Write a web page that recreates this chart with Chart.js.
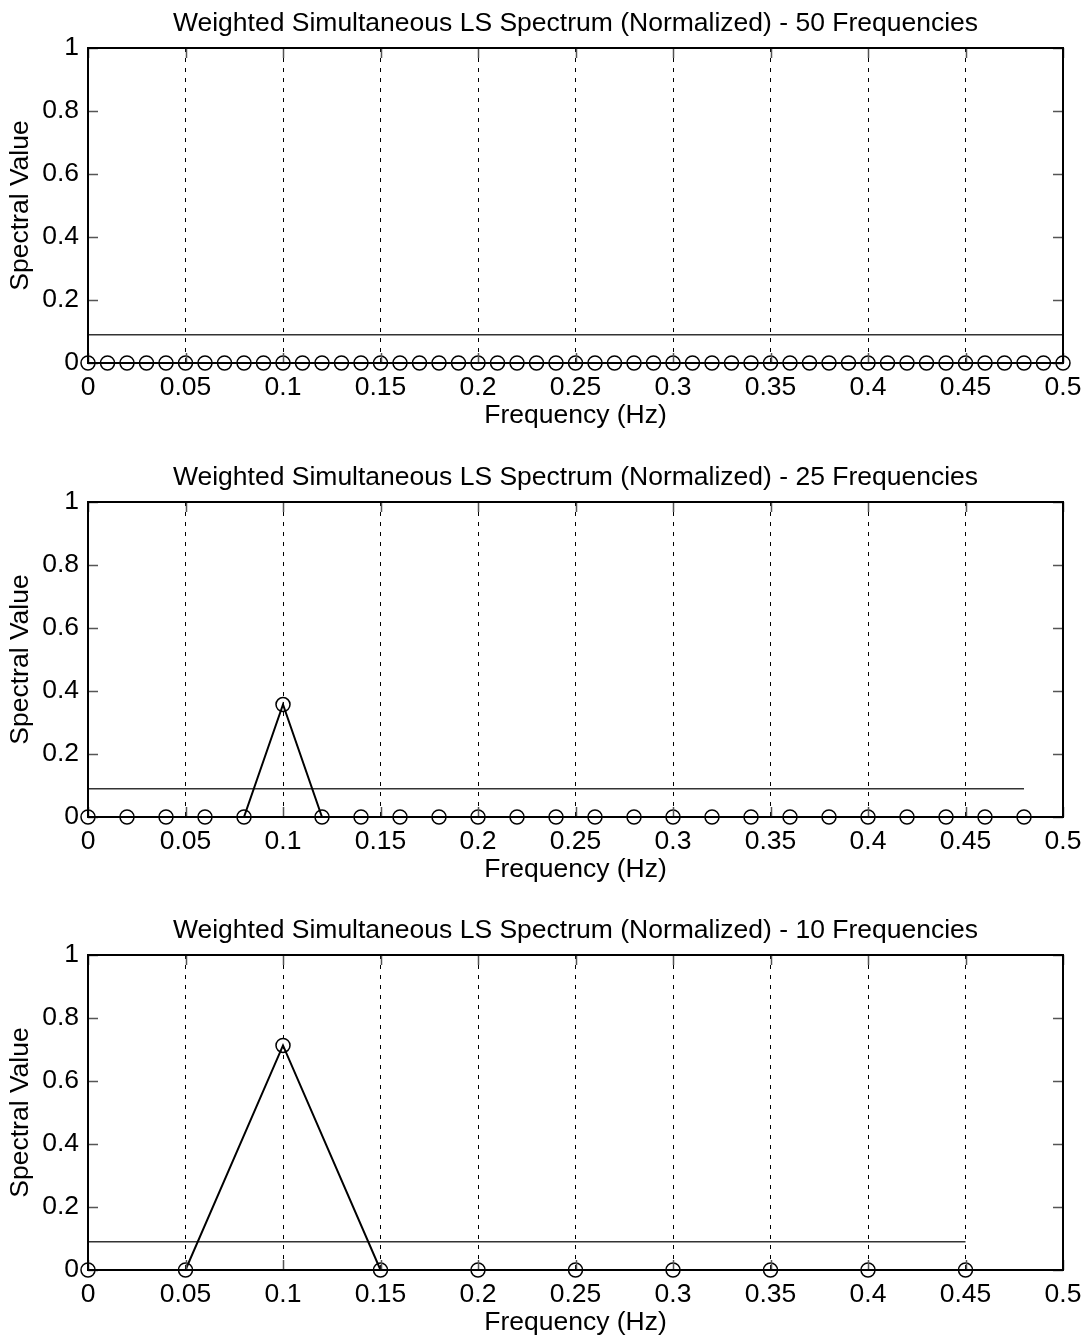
<!DOCTYPE html>
<html lang="en">
<head>
  <meta charset="UTF-8">
  <title>Weighted Simultaneous LS Spectrum</title>
  <script src="https://cdn.jsdelivr.net/npm/chart.js"></script>
  <style>
    body {
      margin: 0;
      background: #fff;
      width: 1089px;
      height: 1339px;
      position: relative;
      overflow: hidden;
    }
    .plot {
      position: absolute;
      left: 0;
      width: 1089px;
      height: 453px;
    }
  </style>
</head>
<body>
  <div class="plot" style="top: 0px;"><canvas id="c50"></canvas></div>
  <div class="plot" style="top: 454px;"><canvas id="c25"></canvas></div>
  <div class="plot" style="top: 907px;"><canvas id="c10"></canvas></div>

  <script>
    // axis ticks
    const xTickValues = [0, 0.05, 0.1, 0.15, 0.2, 0.25, 0.3, 0.35, 0.4, 0.45, 0.5];
    const xTickLabels = ["0", "0.05", "0.1", "0.15", "0.2", "0.25", "0.3", "0.35", "0.4", "0.45", "0.5"];
    const yTickValues = [0, 0.2, 0.4, 0.6, 0.8, 1];
    const yTickLabels = ["0", "0.2", "0.4", "0.6", "0.8", "1"];

    // 50 frequencies
    const freq50 = [0, 0.01, 0.02, 0.03, 0.04, 0.05, 0.06, 0.07, 0.08, 0.09,
                    0.10, 0.11, 0.12, 0.13, 0.14, 0.15, 0.16, 0.17, 0.18, 0.19,
                    0.20, 0.21, 0.22, 0.23, 0.24, 0.25, 0.26, 0.27, 0.28, 0.29,
                    0.30, 0.31, 0.32, 0.33, 0.34, 0.35, 0.36, 0.37, 0.38, 0.39,
                    0.40, 0.41, 0.42, 0.43, 0.44, 0.45, 0.46, 0.47, 0.48, 0.49, 0.50];
    const spec50 = [0, 0, 0, 0, 0, 0, 0, 0, 0, 0,
                    0, 0, 0, 0, 0, 0, 0, 0, 0, 0,
                    0, 0, 0, 0, 0, 0, 0, 0, 0, 0,
                    0, 0, 0, 0, 0, 0, 0, 0, 0, 0,
                    0, 0, 0, 0, 0, 0, 0, 0, 0, 0, 0];
    const thrX50 = [0, 0.5];
    const thrY50 = [0.09, 0.09];

    // 25 frequencies
    const freq25 = [0, 0.02, 0.04, 0.06, 0.08, 0.10, 0.12, 0.14, 0.16, 0.18,
                    0.20, 0.22, 0.24, 0.26, 0.28, 0.30, 0.32, 0.34, 0.36, 0.38,
                    0.40, 0.42, 0.44, 0.46, 0.48];
    const spec25 = [0, 0, 0, 0, 0, 0.357, 0, 0, 0, 0,
                    0, 0, 0, 0, 0, 0, 0, 0, 0, 0,
                    0, 0, 0, 0, 0];
    const thrX25 = [0, 0.48];
    const thrY25 = [0.09, 0.09];

    // 10 frequencies
    const freq10 = [0, 0.05, 0.10, 0.15, 0.20, 0.25, 0.30, 0.35, 0.40, 0.45];
    const spec10 = [0, 0, 0.713, 0, 0, 0, 0, 0, 0, 0];
    const thrX10 = [0, 0.45];
    const thrY10 = [0.09, 0.09];

    const FONT = "'Liberation Sans', Arial, sans-serif";
    const FSIZE = 26.5;

    function toPoints(xs, ys) {
      return xs.map((x, i) => ({ x: x, y: ys[i] }));
    }

    // axes box with inner tick marks, MATLAB style
    const boxPlugin = {
      id: 'box',
      afterDraw(chart) {
        const { ctx, chartArea: a, scales: { x, y } } = chart;
        ctx.save();
        ctx.strokeStyle = '#555';
        ctx.lineWidth = 1.5;
        const len = 10;
        xTickValues.forEach(v => {
          const px = Math.round(x.getPixelForValue(v)) + 0.5;
          ctx.beginPath();
          ctx.moveTo(px, a.bottom); ctx.lineTo(px, a.bottom - len);
          ctx.moveTo(px, a.top); ctx.lineTo(px, a.top + len);
          ctx.stroke();
        });
        yTickValues.forEach(v => {
          const py = Math.round(y.getPixelForValue(v)) + 0.5;
          ctx.beginPath();
          ctx.moveTo(a.left, py); ctx.lineTo(a.left + len, py);
          ctx.moveTo(a.right, py); ctx.lineTo(a.right - len, py);
          ctx.stroke();
        });
        ctx.strokeStyle = '#000';
        ctx.lineWidth = 2;
        ctx.strokeRect(a.left, a.top, a.right - a.left, a.bottom - a.top);
        ctx.restore();
      }
    };

    function makeChart(id, title, xs, ys, tx, ty) {
      new Chart(document.getElementById(id), {
        type: 'scatter',
        data: {
          datasets: [{
            data: toPoints(tx, ty),
            showLine: true,
            borderColor: '#333',
            borderWidth: 1.5,
            pointRadius: 0,
            clip: false,
            order: 2
          }, {
            data: toPoints(xs, ys),
            showLine: true,
            borderColor: '#000',
            borderWidth: 2,
            pointRadius: 7,
            pointBorderWidth: 1.5,
            pointBorderColor: '#000',
            pointBackgroundColor: 'rgba(0,0,0,0)',
            clip: false,
            order: 1
          }]
        },
        options: {
          responsive: true,
          maintainAspectRatio: false,
          animation: false,
          layout: { padding: { left: 0, right: 26, top: 0, bottom: 0 } },
          plugins: {
            legend: { display: false },
            tooltip: { enabled: false },
            title: { display: false }
          },
          scales: {
            x: {
              type: 'linear',
              min: 0,
              max: 0.5,
              afterBuildTicks(scale) { scale.ticks = xTickValues.map(v => ({ value: v })); },
              afterFit(scale) {
                scale.height = 90;
                scale.paddingLeft = 0;
                scale.paddingRight = 0;
              },
              ticks: {
                color: '#000',
                padding: 9,
                maxRotation: 0,
                autoSkip: false,
                font: { family: FONT, size: FSIZE, lineHeight: 1.2 },
                callback: (v, i) => xTickLabels[i]
              },
              grid: {
                color: '#000',
                lineWidth: 1,
                drawTicks: false,
                tickLength: 0
              },
              border: { display: false, dash: [4, 6] },
              title: {
                display: true,
                text: 'Frequency (Hz)',
                color: '#000',
                font: { family: FONT, size: FSIZE, lineHeight: 1.2 },
                padding: { top: 0, bottom: 21 }
              }
            },
            // top axis only carries the plot title, centred over the axes
            xTop: {
              type: 'linear',
              position: 'top',
              min: 0,
              max: 0.5,
              afterFit(scale) {
                scale.height = 48;
                scale.paddingLeft = 0;
                scale.paddingRight = 0;
              },
              ticks: { display: false },
              grid: { display: false, drawTicks: false },
              border: { display: false },
              title: {
                display: true,
                text: title,
                color: '#000',
                font: { family: FONT, size: FSIZE, lineHeight: 1.2 },
                padding: { top: 8, bottom: 0 }
              }
            },
            y: {
              type: 'linear',
              min: 0,
              max: 1,
              afterBuildTicks(scale) { scale.ticks = yTickValues.map(v => ({ value: v })); },
              afterFit(scale) { scale.width = 88; },
              ticks: {
                color: '#000',
                padding: 9,
                autoSkip: false,
                font: { family: FONT, size: FSIZE, lineHeight: 1.2 },
                callback: (v, i) => yTickLabels[i]
              },
              grid: { display: false, drawTicks: false },
              border: { display: false },
              title: {
                display: true,
                text: 'Spectral Value',
                color: '#000',
                font: { family: FONT, size: FSIZE, lineHeight: 1.2 },
                padding: { top: 5, bottom: 0 }
              }
            }
          }
        },
        plugins: [boxPlugin]
      });
    }

    makeChart('c50', 'Weighted Simultaneous LS Spectrum (Normalized) - 50 Frequencies', freq50, spec50, thrX50, thrY50);
    makeChart('c25', 'Weighted Simultaneous LS Spectrum (Normalized) - 25 Frequencies', freq25, spec25, thrX25, thrY25);
    makeChart('c10', 'Weighted Simultaneous LS Spectrum (Normalized) - 10 Frequencies', freq10, spec10, thrX10, thrY10);
  </script>
</body>
</html>
